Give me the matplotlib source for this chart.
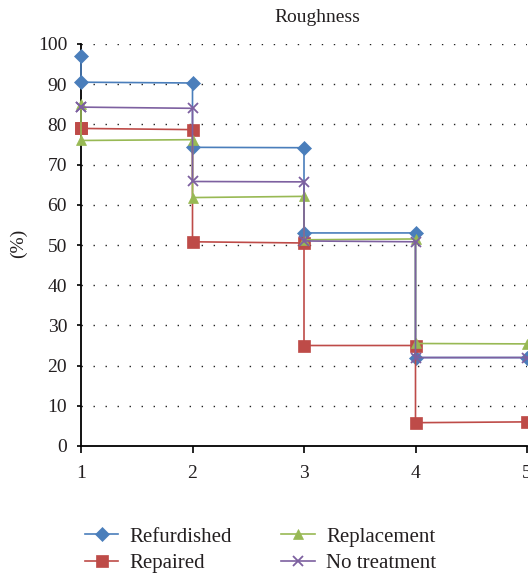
import matplotlib
matplotlib.use("Agg")
import matplotlib.pyplot as plt

plt.rcParams['font.family'] = ['Liberation Serif', 'DejaVu Serif']

# step-like series: each x appears twice (value before / after the drop)
x_vals = [1, 1, 2, 2, 3, 3, 4, 4, 5]
refurdished = [97.0, 90.5, 90.3, 74.3, 74.2, 53.0, 53.0, 22.0, 22.0]
repaired = [79.0, 79.0, 78.7, 50.8, 50.5, 25.0, 25.0, 5.8, 6.0]
replacement = [85.0, 76.0, 76.2, 61.8, 62.1, 51.3, 51.5, 25.5, 25.4]
no_treatment = [84.3, 84.3, 84.0, 65.8, 65.7, 51.0, 50.8, 22.0, 22.0]

labels = ['Refurdished', 'Repaired', 'Replacement', 'No treatment']
colors = ['#4a7ebb', '#be4b48', '#98b954', '#7d60a0']
markers = ['D', 's', '^', 'x']
msizes = [7.5, 9, 6.5, 7.5]

y_ticks = list(range(0, 101, 10))
x_ticks = [1, 2, 3, 4, 5]

text_col = '#231f20'

fig = plt.figure(figsize=(5.28, 5.75), dpi=100)
W, H = 528, 575
ax = fig.add_axes([81 / W, 1 - 446 / H, 446 / W, 402 / H])

series = [refurdished, repaired, replacement, no_treatment]
for ys, lab, c, m, ms in zip(series, labels, colors, markers, msizes):
    ax.plot(x_vals, ys, color=c, lw=1.2, marker=m, markersize=ms,
            markeredgewidth=1.3 if m == 'x' else 0.5, markeredgecolor=c,
            label=lab, clip_on=False, zorder=3)

ax.set_xlim(1, 5)
ax.set_ylim(0, 100)
ax.set_xticks(x_ticks)
ax.set_yticks(y_ticks)

for yv in y_ticks[1:]:
    ax.axhline(yv, color='#222222', lw=1.0, linestyle=(0, (1, 7.65)), zorder=1)

for side in ['top', 'right']:
    ax.spines[side].set_visible(False)
for side in ['left', 'bottom']:
    ax.spines[side].set_color('black')
    ax.spines[side].set_linewidth(1.3)
    ax.spines[side].set_zorder(2)

ax.tick_params(axis='x', direction='out', length=5, width=1.2, pad=9,
               labelsize=14, colors='black', labelcolor=text_col)
ax.tick_params(axis='y', direction='out', length=3, width=1.2, pad=7,
               labelsize=14, colors='black', labelcolor=text_col)

fig.text(18 / W, 1 - 243 / H, '(%)', rotation=90, ha='center', va='center',
         fontsize=14, color=text_col)
fig.text(317 / W, 1 - 17 / H, 'Roughness', ha='center', va='center',
         fontsize=14, color=text_col)

handles, labs = ax.get_legend_handles_labels()
fig.legend(handles, labs, loc='upper left', bbox_to_anchor=(85 / W, 1 - 527 / H),
           ncol=2, frameon=False, fontsize=15, borderpad=0, borderaxespad=0,
           handlelength=1.6, handletextpad=0.55, columnspacing=2.35,
           labelspacing=0.33, labelcolor=text_col)

fig.savefig('out.png', dpi=100)
